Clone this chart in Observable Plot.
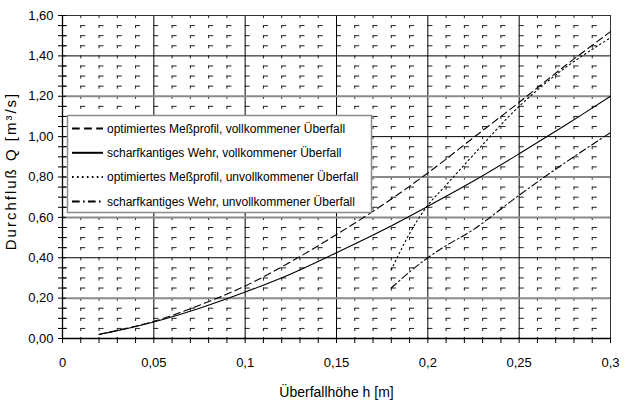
<!DOCTYPE html>
<html><head><meta charset="utf-8">
<script src="https://cdn.jsdelivr.net/npm/d3@7"></script>
<script src="https://cdn.jsdelivr.net/npm/@observablehq/plot@0.6"></script>
<style>body{margin:0;background:#fff} svg{display:block}</style>
</head><body><div id="chart"></div>
<script>
// ---- data ----
const seriesNames = [
  "optimiertes Meßprofil, vollkommener Überfall",
  "scharfkantiges Wehr, vollkommener Überfall",
  "optimiertes Meßprofil, unvollkommener Überfall",
  "scharfkantiges Wehr, unvollkommener Überfall"
];
const hVoll = [0.02, 0.025, 0.05, 0.075, 0.1, 0.125, 0.15, 0.175, 0.2, 0.225, 0.25, 0.275, 0.3];
const qOptVoll = [0.02, 0.03, 0.085, 0.165, 0.26, 0.38, 0.515, 0.66, 0.82, 0.995, 1.17, 1.35, 1.52];
const qScharfVoll = [0.021, 0.029, 0.082, 0.15, 0.23, 0.32, 0.425, 0.535, 0.655, 0.78, 0.915, 1.055, 1.2];
const hUnvoll = [0.18, 0.19, 0.2, 0.21, 0.225, 0.25, 0.275, 0.3];
const qOptUnvoll = [0.34, 0.52, 0.66, 0.76, 0.91, 1.15, 1.34, 1.49];
const qScharfUnvoll = [0.25, 0.33, 0.40, 0.46, 0.54, 0.71, 0.87, 1.02];

const xTicks = [0, 0.05, 0.1, 0.15, 0.2, 0.25, 0.3];
const xTickLabels = ["0", "0,05", "0,1", "0,15", "0,2", "0,25", "0,3"];
const yTicks = [0, 0.2, 0.4, 0.6, 0.8, 1.0, 1.2, 1.4, 1.6];
const yTickLabels = ["0,00", "0,20", "0,40", "0,60", "0,80", "1,00", "1,20", "1,40", "1,60"];
const xLabel = "Überfallhöhe h [m]";
const yLabel = "Durchfluß Q [m³/s]";

// ---- build tables ----
const series = [
  {name: seriesNames[0], h: hVoll, q: qOptVoll, dash: "7,4"},
  {name: seriesNames[1], h: hVoll, q: qScharfVoll, dash: null},
  {name: seriesNames[2], h: hUnvoll, q: qOptUnvoll, dash: "1.5,3"},
  {name: seriesNames[3], h: hUnvoll, q: qScharfUnvoll, dash: "7,3,1.5,3"}
];
const tables = series.map(s => s.h.map((h, i) => ({h, Q: s.q[i], series: s.name})));

const xMinor = d3.range(0, 31).map(i => i / 100);
const xMinorGrid = xMinor.filter(v => Math.round(v * 100) % 5 !== 0);
const yMinor = d3.range(0, 33).map(i => i * 0.05);
const yMinorGrid = yMinor.filter((v, i) => i % 4 !== 0);
const majorXGrid = xTicks.slice(1, -1);
const majorYGrid = yTicks.slice(1, -1);
const grayY = new Set([0.2, 0.6, 0.8, 1.2]);
const FONT = "'Liberation Sans', Arial, sans-serif";

const plot = Plot.plot({
  width: 634,
  height: 403,
  marginLeft: 62,
  marginRight: 24,
  marginTop: 15,
  marginBottom: 65,
  style: {fontFamily: FONT, background: "#fff", color: "#000"},
  x: {domain: [0, 0.3], axis: null},
  y: {domain: [0, 1.6], axis: null},
  marks: [
    Plot.ruleY(yMinorGrid, {stroke: "#222", strokeWidth: 1, strokeDasharray: "5,13.27"}),
    Plot.ruleX(xMinorGrid, {stroke: "#222", strokeWidth: 1, strokeDasharray: "3,7.1"}),
    Plot.ruleX(majorXGrid, {stroke: "#000", strokeWidth: 1}),
    Plot.ruleY(majorYGrid.filter(v => !grayY.has(+v.toFixed(1))), {stroke: "#000", strokeWidth: 1}),
    Plot.ruleY(majorYGrid.filter(v => grayY.has(+v.toFixed(1))), {stroke: "#8a8a8a", strokeWidth: 2}),
    Plot.frame({stroke: "#333", strokeWidth: 1}),
    // axis ticks
    Plot.ruleX(xMinor, {x: d => d, y1: 0, y2: 0, insetTop: -1, insetBottom: -5, stroke: "#000"}),
    Plot.ruleY(yMinor, {y: d => d, x1: 0, x2: 0, insetLeft: -4, insetRight: -4, stroke: "#000"}),
    Plot.ruleX([0], {stroke: "#000", strokeWidth: 1.3}),
    Plot.ruleY([0], {stroke: "#000", strokeWidth: 1.3}),
    // curves
    ...series.map((s, k) => Plot.line(tables[k], {
      x: "h", y: "Q", curve: "catmull-rom", stroke: "#000", strokeWidth: 1.1,
      strokeDasharray: s.dash
    })),
    // tick labels
    Plot.text(xTicks, {x: d => d, y: 0, text: (d, i) => xTickLabels[i], dy: 24, fontSize: 13, lineAnchor: "middle"}),
    Plot.text(yTicks, {x: 0, y: d => d, text: (d, i) => yTickLabels[i], dx: -9, textAnchor: "end", fontSize: 13}),
    // x axis title
    Plot.text([xLabel], {frameAnchor: "bottom", dy: 54, fontSize: 14, lineAnchor: "middle"})
  ]
});

const svg = d3.select(plot);
// y axis title
svg.append("text")
  .attr("transform", "translate(11,171) rotate(-90)")
  .attr("text-anchor", "middle").attr("dy", "0.35em")
  .attr("font-family", FONT).attr("font-size", 15).attr("letter-spacing", 2)
  .attr("fill", "#000").text(yLabel);

// legend box
const lg = svg.append("g").attr("font-family", FONT).attr("text-anchor", "start");
lg.append("rect").attr("x", 67.5).attr("y", 115.5).attr("width", 304).attr("height", 97)
  .attr("fill", "#fff").attr("stroke", "#8a8a8a").attr("stroke-width", 1.5);
series.forEach((s, i) => {
  const y = 128.5 + i * 24.3;
  lg.append("line").attr("x1", 72).attr("x2", 103).attr("y1", y).attr("y2", y)
    .attr("stroke", "#000").attr("stroke-width", 2)
    .attr("stroke-dasharray", s.dash ? s.dash.split(",").map(v => +v * 1.1).join(",") : null);
  lg.append("text").attr("x", 107).attr("y", y).attr("dy", "0.35em")
    .attr("text-anchor", "start")
    .attr("font-size", 12).attr("fill", "#000").text(s.name);
});

document.getElementById("chart").appendChild(plot);
</script>
</body></html>
